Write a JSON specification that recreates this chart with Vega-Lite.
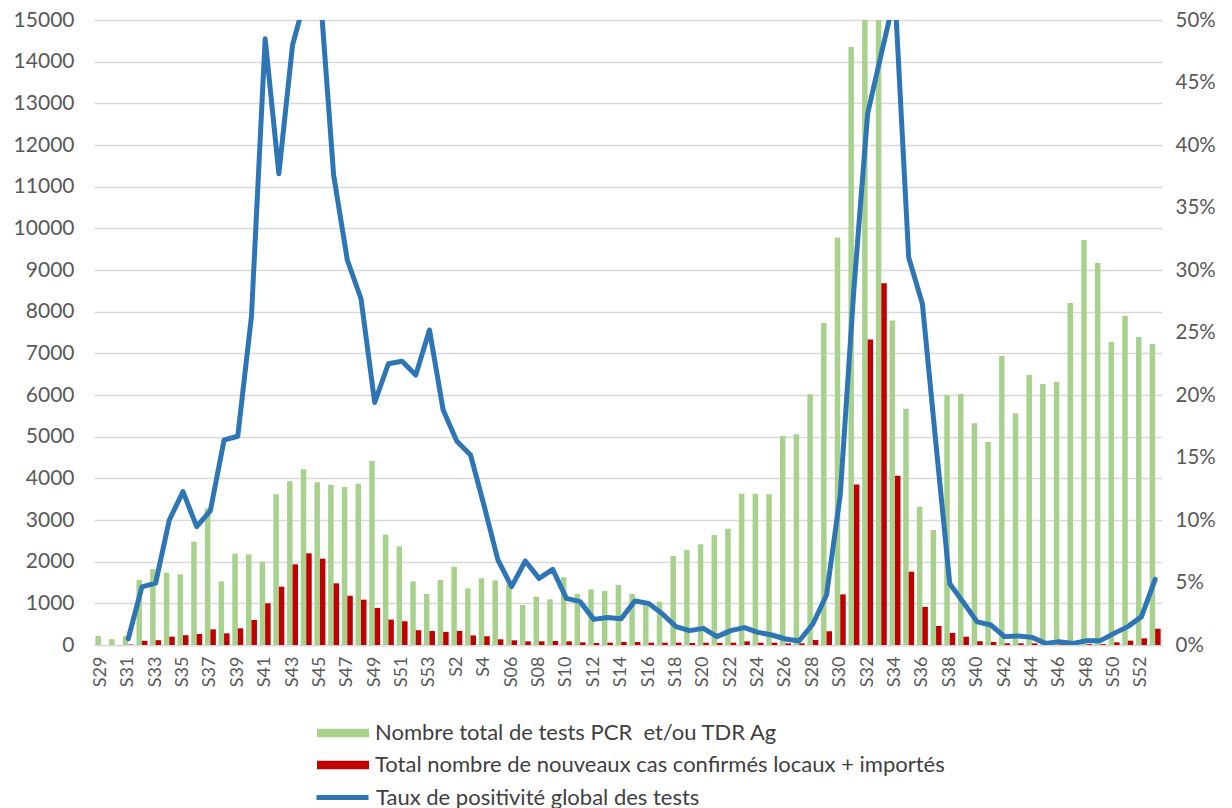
{
  "$schema": "https://vega.github.io/schema/vega-lite/v6.json",
  "width": 1068,
  "height": 625,
  "autosize": {"type": "none"},
  "padding": {"left": 94, "top": 20, "right": 70, "bottom": 163},
  "background": "white",
  "config": {"view": {"stroke": null}, "font": "Lato"},
  "data": {"values": [
    {"k": "2020-S29", "tests": 216, "cas": 0, "taux": null},
    {"k": "2020-S30", "tests": 140, "cas": 0, "taux": null},
    {"k": "2020-S31", "tests": 210, "cas": 10, "taux": 0.5},
    {"k": "2020-S32", "tests": 1560, "cas": 100, "taux": 4.65},
    {"k": "2020-S33", "tests": 1820, "cas": 115, "taux": 4.95},
    {"k": "2020-S34", "tests": 1736, "cas": 200, "taux": 10.0},
    {"k": "2020-S35", "tests": 1696, "cas": 235, "taux": 12.27},
    {"k": "2020-S36", "tests": 2480, "cas": 264, "taux": 9.47},
    {"k": "2020-S37", "tests": 3280, "cas": 376, "taux": 10.75},
    {"k": "2020-S38", "tests": 1528, "cas": 280, "taux": 16.4},
    {"k": "2020-S39", "tests": 2192, "cas": 400, "taux": 16.7},
    {"k": "2020-S40", "tests": 2176, "cas": 600, "taux": 26.3},
    {"k": "2020-S41", "tests": 2000, "cas": 1000, "taux": 48.5},
    {"k": "2020-S42", "tests": 3616, "cas": 1400, "taux": 37.7},
    {"k": "2020-S43", "tests": 3928, "cas": 1936, "taux": 48.0},
    {"k": "2020-S44", "tests": 4216, "cas": 2200, "taux": 52.0},
    {"k": "2020-S45", "tests": 3904, "cas": 2072, "taux": 52.5},
    {"k": "2020-S46", "tests": 3848, "cas": 1480, "taux": 37.6},
    {"k": "2020-S47", "tests": 3792, "cas": 1184, "taux": 30.8},
    {"k": "2020-S48", "tests": 3872, "cas": 1088, "taux": 27.7},
    {"k": "2020-S49", "tests": 4416, "cas": 890, "taux": 19.4},
    {"k": "2020-S50", "tests": 2648, "cas": 610, "taux": 22.5},
    {"k": "2020-S51", "tests": 2368, "cas": 570, "taux": 22.7},
    {"k": "2020-S52", "tests": 1528, "cas": 355, "taux": 21.6},
    {"k": "2020-S53", "tests": 1224, "cas": 335, "taux": 25.2},
    {"k": "2021-S1", "tests": 1560, "cas": 315, "taux": 18.8},
    {"k": "2021-S2", "tests": 1880, "cas": 340, "taux": 16.3},
    {"k": "2021-S3", "tests": 1360, "cas": 230, "taux": 15.2},
    {"k": "2021-S4", "tests": 1600, "cas": 210, "taux": 11.1},
    {"k": "2021-S5", "tests": 1552, "cas": 136, "taux": 6.8},
    {"k": "2021-S06", "tests": 1450, "cas": 112, "taux": 4.67},
    {"k": "2021-S07", "tests": 960, "cas": 88, "taux": 6.72},
    {"k": "2021-S08", "tests": 1160, "cas": 88, "taux": 5.33},
    {"k": "2021-S09", "tests": 1096, "cas": 96, "taux": 6.05},
    {"k": "2021-S10", "tests": 1624, "cas": 88, "taux": 3.73},
    {"k": "2021-S11", "tests": 1224, "cas": 64, "taux": 3.47},
    {"k": "2021-S12", "tests": 1336, "cas": 48, "taux": 2.05},
    {"k": "2021-S13", "tests": 1296, "cas": 56, "taux": 2.2},
    {"k": "2021-S14", "tests": 1440, "cas": 72, "taux": 2.1},
    {"k": "2021-S15", "tests": 1224, "cas": 72, "taux": 3.52},
    {"k": "2021-S16", "tests": 1020, "cas": 56, "taux": 3.33},
    {"k": "2021-S17", "tests": 1040, "cas": 56, "taux": 2.5},
    {"k": "2021-S18", "tests": 2136, "cas": 56, "taux": 1.47},
    {"k": "2021-S19", "tests": 2280, "cas": 48, "taux": 1.15},
    {"k": "2021-S20", "tests": 2416, "cas": 56, "taux": 1.33},
    {"k": "2021-S21", "tests": 2640, "cas": 48, "taux": 0.67},
    {"k": "2021-S22", "tests": 2792, "cas": 56, "taux": 1.15},
    {"k": "2021-S23", "tests": 3632, "cas": 88, "taux": 1.39},
    {"k": "2021-S24", "tests": 3632, "cas": 56, "taux": 1.01},
    {"k": "2021-S25", "tests": 3616, "cas": 56, "taux": 0.8},
    {"k": "2021-S26", "tests": 5016, "cas": 40, "taux": 0.48},
    {"k": "2021-S27", "tests": 5056, "cas": 40, "taux": 0.32},
    {"k": "2021-S28", "tests": 6016, "cas": 120, "taux": 1.68},
    {"k": "2021-S29", "tests": 7730, "cas": 330, "taux": 4.0},
    {"k": "2021-S30", "tests": 9780, "cas": 1215, "taux": 12.0},
    {"k": "2021-S31", "tests": 14350, "cas": 3850, "taux": 28.5},
    {"k": "2021-S32", "tests": 16500, "cas": 7335, "taux": 42.5},
    {"k": "2021-S33", "tests": 17000, "cas": 8680, "taux": 47.3},
    {"k": "2021-S34", "tests": 7790, "cas": 4060, "taux": 52.0},
    {"k": "2021-S35", "tests": 5670, "cas": 1760, "taux": 31.0},
    {"k": "2021-S36", "tests": 3320, "cas": 915, "taux": 27.3},
    {"k": "2021-S37", "tests": 2760, "cas": 456, "taux": 16.0},
    {"k": "2021-S38", "tests": 6000, "cas": 290, "taux": 4.9},
    {"k": "2021-S39", "tests": 6024, "cas": 200, "taux": 3.4},
    {"k": "2021-S40", "tests": 5320, "cas": 90, "taux": 1.85},
    {"k": "2021-S41", "tests": 4872, "cas": 72, "taux": 1.6},
    {"k": "2021-S42", "tests": 6936, "cas": 40, "taux": 0.67},
    {"k": "2021-S43", "tests": 5560, "cas": 40, "taux": 0.72},
    {"k": "2021-S44", "tests": 6480, "cas": 40, "taux": 0.61},
    {"k": "2021-S45", "tests": 6264, "cas": 20, "taux": 0.13},
    {"k": "2021-S46", "tests": 6320, "cas": 20, "taux": 0.27},
    {"k": "2021-S47", "tests": 8208, "cas": 20, "taux": 0.13},
    {"k": "2021-S48", "tests": 9720, "cas": 20, "taux": 0.35},
    {"k": "2021-S49", "tests": 9168, "cas": 20, "taux": 0.35},
    {"k": "2021-S50", "tests": 7272, "cas": 64, "taux": 0.93},
    {"k": "2021-S51", "tests": 7896, "cas": 104, "taux": 1.47},
    {"k": "2021-S52", "tests": 7392, "cas": 160, "taux": 2.27},
    {"k": "2022-S1", "tests": 7224, "cas": 390, "taux": 5.25}
  ]},
  "encoding": {
    "x": {
      "field": "k",
      "type": "nominal",
      "sort": null,
      "scale": {"paddingInner": 0.2, "paddingOuter": 0.1},
      "axis": {
        "title": null,
        "values": ["2020-S29", "2020-S31", "2020-S33", "2020-S35", "2020-S37", "2020-S39", "2020-S41", "2020-S43", "2020-S45", "2020-S47", "2020-S49", "2020-S51", "2020-S53", "2021-S2", "2021-S4", "2021-S06", "2021-S08", "2021-S10", "2021-S12", "2021-S14", "2021-S16", "2021-S18", "2021-S20", "2021-S22", "2021-S24", "2021-S26", "2021-S28", "2021-S30", "2021-S32", "2021-S34", "2021-S36", "2021-S38", "2021-S40", "2021-S42", "2021-S44", "2021-S46", "2021-S48", "2021-S50", "2021-S52"],
        "labelExpr": "split(datum.value, '-')[1]",
        "labelAngle": -90,
        "labelFontSize": 18,
        "labelColor": "#595959",
        "labelPadding": 11,
        "ticks": false,
        "grid": false,
        "domainColor": "#D9D9D9",
        "domainWidth": 1.5
      }
    }
  },
  "layer": [
    {
      "transform": [{"fold": ["tests", "cas"], "as": ["serie", "valeur"]}],
      "mark": {"type": "bar", "clip": true},
      "encoding": {
        "xOffset": {"field": "serie", "type": "nominal", "sort": ["tests", "cas"], "scale": {"domain": ["tests", "cas"], "paddingInner": 0, "paddingOuter": 0}},
        "y": {
          "field": "valeur",
          "type": "quantitative",
          "scale": {"domain": [0, 15000], "nice": false},
          "axis": {
            "title": null,
            "values": [0, 1000, 2000, 3000, 4000, 5000, 6000, 7000, 8000, 9000, 10000, 11000, 12000, 13000, 14000, 15000],
            "format": "d",
            "domain": false,
            "ticks": false,
            "grid": true,
            "gridColor": "#D9D9D9",
            "gridWidth": 1.3,
            "labelFontSize": 21,
            "labelColor": "#595959",
            "labelPadding": 20
          }
        },
        "color": {
          "field": "serie",
          "type": "nominal",
          "scale": {"domain": ["tests", "cas"], "range": ["#A9D18E", "#C00000"]},
          "legend": {
            "title": null,
            "orient": "none",
            "legendX": 238,
            "legendY": 702,
            "direction": "vertical",
            "padding": 0,
            "symbolType": "M-5.2,-0.83H5.2V0.83H-5.2Z",
            "symbolSize": 100,
            "symbolStrokeWidth": 0,
            "labelFontSize": 22,
            "labelColor": "#404040",
            "labelOffset": 21,
            "labelLimit": 800,
            "rowPadding": 10,
            "labelExpr": "datum.value == 'tests' ? 'Nombre total de tests PCR\u00a0 et/ou TDR Ag' : 'Total nombre de nouveaux cas confirmés locaux + importés'"
          }
        }
      }
    },
    {
      "mark": {"type": "line", "clip": true, "strokeWidth": 5, "strokeCap": "round", "strokeJoin": "round"},
      "encoding": {
        "y": {
          "field": "taux",
          "type": "quantitative",
          "scale": {"domain": [0, 50], "nice": false},
          "axis": {
            "orient": "right",
            "title": null,
            "values": [0, 5, 10, 15, 20, 25, 30, 35, 40, 45, 50],
            "labelExpr": "datum.value + '%'",
            "domain": false,
            "ticks": false,
            "grid": false,
            "labelFontSize": 20.5,
            "labelColor": "#595959",
            "labelPadding": 13
          }
        },
        "stroke": {
          "datum": "Taux de positivité global des tests",
          "type": "nominal",
          "scale": {"range": ["#2E75B6"]},
          "legend": {
            "title": null,
            "orient": "none",
            "legendX": 220,
            "legendY": 749,
            "padding": 0,
            "symbolType": "stroke",
            "symbolSize": 2704,
            "symbolStrokeWidth": 5,
            "labelFontSize": 22,
            "labelColor": "#404040",
            "labelOffset": 5,
            "labelLimit": 800
          }
        }
      }
    }
  ],
  "resolve": {"scale": {"y": "independent"}}
}
